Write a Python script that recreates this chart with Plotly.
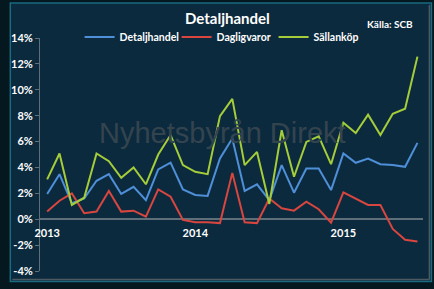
import plotly.graph_objects as go

months = [f"{y}-{m:02d}" for y in (2013, 2014, 2015) for m in range(1, 13)][:31]
detaljhandel = [1.95, 3.48, 1.23, 1.6, 2.97, 3.48, 1.95, 2.5, 1.48, 3.85, 4.38, 2.3,
                1.87, 1.8, 4.69, 6.23, 2.18, 2.7, 1.48, 4.18, 2.05, 3.92, 3.92, 2.25,
                5.08, 4.36, 4.69, 4.25, 4.18, 4.05, 5.9]
dagligvaror = [0.59, 1.43, 2.0, 0.46, 0.59, 2.18, 0.59, 0.66, 0.2, 2.3, 1.74, -0.05,
               -0.23, -0.23, -0.3, 3.58, -0.23, -0.3, 1.6, 0.85, 0.66, 1.36, 0.77, -0.26,
               2.08, 1.6, 1.1, 1.1, -0.75, -1.59, -1.72]
sallankop = [3.08, 5.08, 1.1, 1.66, 5.08, 4.48, 3.2, 4.0, 2.7, 5.0, 6.5, 4.18,
             3.66, 3.48, 7.97, 9.3, 4.18, 5.2, 1.18, 6.87, 3.28, 5.97, 6.4, 4.25,
             7.46, 6.66, 8.08, 6.5, 8.15, 8.54, 12.56]
year_ticks = [0, 12, 24]
year_labels = ["2013", "2014", "2015"]
y_ticks = list(range(-4, 15, 2))
y_labels = [f"{v}%" for v in y_ticks]

W, H = 434, 289
ML, MR, MT, MB = 36, 11, 38, 18
PW, PH = W - ML - MR, H - MT - MB

def px(x):
    return (x - ML) / PW

def py(y):
    return (H - MB - y) / PH

FONT = "Lato"
idx = list(range(len(months)))

fig = go.Figure()
for name, vals, col in [("Detaljhandel", detaljhandel, "#4f8fd8"),
                        ("Dagligvaror", dagligvaror, "#d8463f"),
                        ("Sällanköp", sallankop, "#a5cd39")]:
    fig.add_trace(go.Scatter(x=idx, y=vals, mode="lines", name=name,
                             line=dict(color=col, width=2),
                             hovertext=months))

fig.update_layout(
    width=W, height=H,
    margin=dict(l=ML, r=MR, t=MT, b=MB),
    paper_bgcolor="#05171f",
    plot_bgcolor="rgba(0,0,0,0)",
    font=dict(family=FONT, color="white", size=11),
    showlegend=True,
    legend=dict(orientation="h", x=px(76), xanchor="left", y=py(37), yanchor="middle",
                font=dict(family=FONT, size=10.5, color="white", weight="bold"),
                bgcolor="rgba(0,0,0,0)", itemwidth=30, tracegroupgap=0,
                entrywidthmode="pixels", entrywidth=52),
    xaxis=dict(range=[-0.58, 30.45], tickvals=year_ticks, ticktext=year_labels,
               showgrid=False, zeroline=False, showline=False,
               anchor="free", position=py(219), ticks="", ticklabelstandoff=6,
               tickfont=dict(family=FONT, size=11, color="white", weight="bold")),
    yaxis=dict(range=[-4, 14], tickvals=y_ticks, ticktext=y_labels,
               showgrid=False, zeroline=True, zerolinecolor="#5f6f79", zerolinewidth=1.5,
               showline=True, linecolor="#5f6f79", linewidth=1,
               ticks="outside", ticklen=4, tickcolor="#5f6f79",
               tickfont=dict(family=FONT, size=11, color="white", weight="bold")),
    shapes=[
        dict(type="rect", xref="paper", yref="paper", layer="below",
             x0=px(6), x1=px(431.5), y0=py(3), y1=py(281.5),
             fillcolor="#0b2a3e", line=dict(color="#1a6a80", width=1.5)),
        dict(type="line", xref="paper", yref="paper", layer="below",
             x0=px(8), x1=px(429.5), y0=py(279.5), y1=py(279.5),
             line=dict(color="#4e5a62", width=1.5)),
        dict(type="line", xref="paper", yref="paper", layer="below",
             x0=px(429.5), x1=px(429.5), y0=py(5), y1=py(279.5),
             line=dict(color="#4e5a62", width=1.5)),
    ],
    annotations=[
        dict(text="<b>Detaljhandel</b>", xref="paper", yref="paper", x=px(225), y=py(18),
             xanchor="center", yanchor="middle", showarrow=False,
             font=dict(family=FONT, size=15, color="white")),
        dict(text="<b>Källa: SCB</b>", xref="paper", yref="paper", x=px(415), y=py(24),
             xanchor="right", yanchor="middle", showarrow=False,
             font=dict(family=FONT, size=10, color="white")),
        dict(text="Nyhetsbyrån Direkt", xref="paper", yref="paper", x=px(220), y=py(133),
             xanchor="center", yanchor="middle", showarrow=False,
             font=dict(family="Liberation Sans", size=29, color="#34444f")),
    ],
)

fig.write_html("out.html")
